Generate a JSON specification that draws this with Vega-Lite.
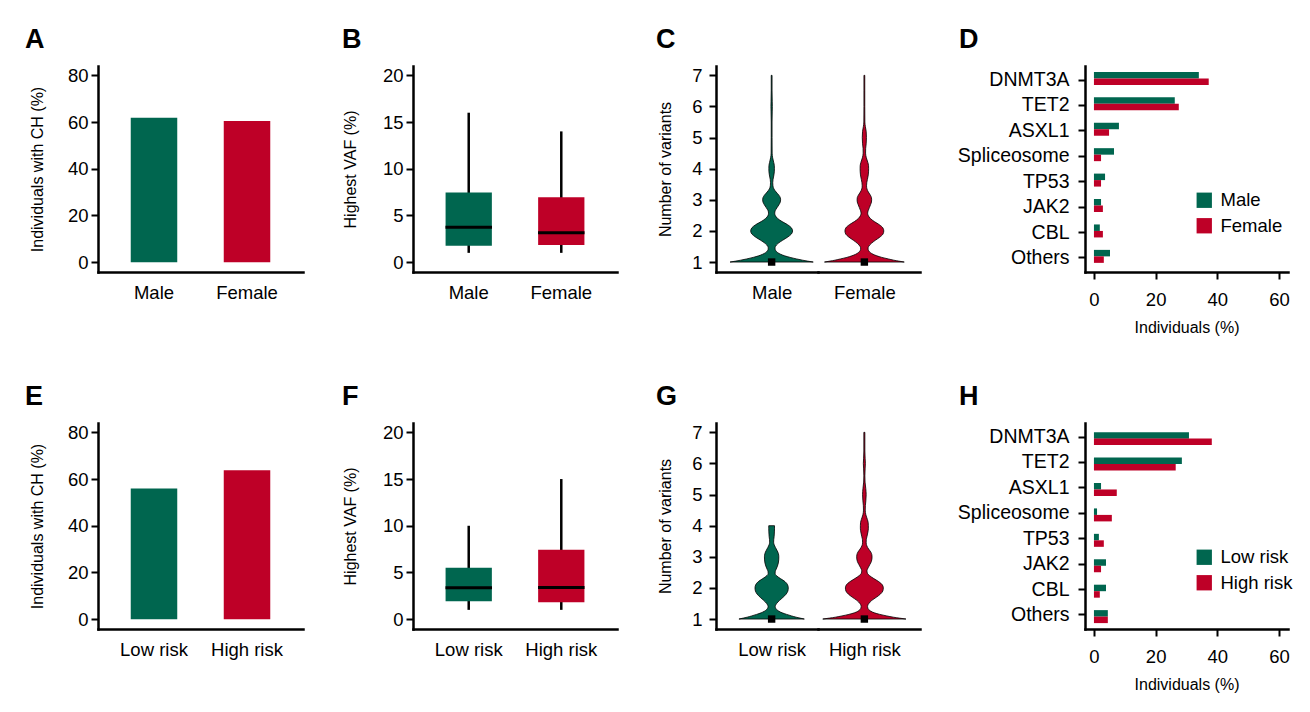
{
  "$schema": "https://vega.github.io/schema/vega-lite/v6.json",
  "background": "white",
  "padding": {"left": 25, "top": 25, "right": 5, "bottom": 5},
  "config": {
    "view": {"stroke": null},
    "font": "Liberation Sans",
    "axis": {"domainColor": "black", "domainWidth": 2.5, "domainCap": "square", "tickColor": "black", "tickWidth": 2, "tickSize": 7, "labelColor": "black", "labelFont": "Liberation Sans", "labelFontSize": 18.5, "labelPadding": 3, "labelFlush": false, "labelOverlap": false, "titleFont": "Liberation Sans", "titleFontSize": 16, "titleFontWeight": "normal", "titleColor": "black", "titlePadding": 22, "grid": false},
    "title": {"font": "Liberation Sans", "fontSize": 27, "fontWeight": "bold", "anchor": "start", "frame": "group", "baseline": "alphabetic", "offset": 12.5, "color": "black"},
    "legend": {"labelFont": "Liberation Sans", "labelFontSize": 18.5, "labelColor": "black", "symbolType": "square", "symbolSize": 235, "symbolStrokeWidth": 0, "symbolOpacity": 1, "rowPadding": 6.5, "labelOffset": 7, "padding": 0}
  },
  "datasets": {
    "ch_sex": [{"group": "Male", "pct": 61.8}, {"group": "Female", "pct": 60.5}],
    "ch_risk": [{"group": "Low risk", "pct": 56.0}, {"group": "High risk", "pct": 63.8}],
    "vaf_sex": [
      {"group": "Male", "min": 1, "q1": 1.75, "median": 3.75, "q3": 7.45, "max": 16},
      {"group": "Female", "min": 1, "q1": 1.85, "median": 3.15, "q3": 6.95, "max": 14}
    ],
    "vaf_risk": [
      {"group": "Low risk", "min": 1, "q1": 1.93, "median": 3.36, "q3": 5.5, "max": 10},
      {"group": "High risk", "min": 1, "q1": 1.82, "median": 3.39, "q3": 7.42, "max": 15}
    ],
    "medians": [
      {"group": "Male", "median": 1}, {"group": "Female", "median": 1},
      {"group": "Low risk", "median": 1}, {"group": "High risk", "median": 1}
    ],
    "genes_sex": [
      {"gene": "DNMT3A", "group": "Male", "pct": 34.0}, {"gene": "DNMT3A", "group": "Female", "pct": 37.2},
      {"gene": "TET2", "group": "Male", "pct": 26.2}, {"gene": "TET2", "group": "Female", "pct": 27.5},
      {"gene": "ASXL1", "group": "Male", "pct": 8.1}, {"gene": "ASXL1", "group": "Female", "pct": 4.9},
      {"gene": "Spliceosome", "group": "Male", "pct": 6.5}, {"gene": "Spliceosome", "group": "Female", "pct": 2.3},
      {"gene": "TP53", "group": "Male", "pct": 3.6}, {"gene": "TP53", "group": "Female", "pct": 2.3},
      {"gene": "JAK2", "group": "Male", "pct": 2.3}, {"gene": "JAK2", "group": "Female", "pct": 2.9},
      {"gene": "CBL", "group": "Male", "pct": 1.9}, {"gene": "CBL", "group": "Female", "pct": 2.9},
      {"gene": "Others", "group": "Male", "pct": 5.2}, {"gene": "Others", "group": "Female", "pct": 3.2}
    ],
    "genes_risk": [
      {"gene": "DNMT3A", "group": "Low risk", "pct": 30.8}, {"gene": "DNMT3A", "group": "High risk", "pct": 38.2},
      {"gene": "TET2", "group": "Low risk", "pct": 28.5}, {"gene": "TET2", "group": "High risk", "pct": 26.5},
      {"gene": "ASXL1", "group": "Low risk", "pct": 2.3}, {"gene": "ASXL1", "group": "High risk", "pct": 7.4},
      {"gene": "Spliceosome", "group": "Low risk", "pct": 1.0}, {"gene": "Spliceosome", "group": "High risk", "pct": 5.8},
      {"gene": "TP53", "group": "Low risk", "pct": 1.6}, {"gene": "TP53", "group": "High risk", "pct": 3.2},
      {"gene": "JAK2", "group": "Low risk", "pct": 3.9}, {"gene": "JAK2", "group": "High risk", "pct": 2.3},
      {"gene": "CBL", "group": "Low risk", "pct": 3.9}, {"gene": "CBL", "group": "High risk", "pct": 1.9},
      {"gene": "Others", "group": "Low risk", "pct": 4.5}, {"gene": "Others", "group": "High risk", "pct": 4.5}
    ],
    "violins": [
      {"group": "Male", "variants": 1.00, "density": 0.897}, {"group": "Male", "variants": 1.03, "density": 0.774}, {"group": "Male", "variants": 1.06, "density": 0.667}, {"group": "Male", "variants": 1.10, "density": 0.538}, {"group": "Male", "variants": 1.15, "density": 0.398}, {"group": "Male", "variants": 1.20, "density": 0.280}, {"group": "Male", "variants": 1.25, "density": 0.194}, {"group": "Male", "variants": 1.30, "density": 0.133}, {"group": "Male", "variants": 1.35, "density": 0.097}, {"group": "Male", "variants": 1.40, "density": 0.077}, {"group": "Male", "variants": 1.45, "density": 0.073}, {"group": "Male", "variants": 1.50, "density": 0.082}, {"group": "Male", "variants": 1.60, "density": 0.140}, {"group": "Male", "variants": 1.70, "density": 0.237}, {"group": "Male", "variants": 1.80, "density": 0.344}, {"group": "Male", "variants": 1.90, "density": 0.426}, {"group": "Male", "variants": 2.00, "density": 0.452}, {"group": "Male", "variants": 2.10, "density": 0.426}, {"group": "Male", "variants": 2.20, "density": 0.344}, {"group": "Male", "variants": 2.30, "density": 0.226}, {"group": "Male", "variants": 2.40, "density": 0.129}, {"group": "Male", "variants": 2.50, "density": 0.077}, {"group": "Male", "variants": 2.57, "density": 0.067}, {"group": "Male", "variants": 2.65, "density": 0.077}, {"group": "Male", "variants": 2.75, "density": 0.118}, {"group": "Male", "variants": 2.85, "density": 0.161}, {"group": "Male", "variants": 2.93, "density": 0.187}, {"group": "Male", "variants": 3.00, "density": 0.194}, {"group": "Male", "variants": 3.07, "density": 0.187}, {"group": "Male", "variants": 3.15, "density": 0.155}, {"group": "Male", "variants": 3.25, "density": 0.097}, {"group": "Male", "variants": 3.35, "density": 0.049}, {"group": "Male", "variants": 3.45, "density": 0.028}, {"group": "Male", "variants": 3.55, "density": 0.024}, {"group": "Male", "variants": 3.65, "density": 0.030}, {"group": "Male", "variants": 3.80, "density": 0.049}, {"group": "Male", "variants": 3.90, "density": 0.058}, {"group": "Male", "variants": 4.00, "density": 0.060}, {"group": "Male", "variants": 4.10, "density": 0.058}, {"group": "Male", "variants": 4.20, "density": 0.045}, {"group": "Male", "variants": 4.35, "density": 0.022}, {"group": "Male", "variants": 4.50, "density": 0.011}, {"group": "Male", "variants": 5.00, "density": 0.009}, {"group": "Male", "variants": 5.50, "density": 0.009}, {"group": "Male", "variants": 5.85, "density": 0.013}, {"group": "Male", "variants": 6.00, "density": 0.015}, {"group": "Male", "variants": 6.15, "density": 0.013}, {"group": "Male", "variants": 6.50, "density": 0.009}, {"group": "Male", "variants": 7.00, "density": 0.009},
      {"group": "Female", "variants": 1.00, "density": 0.860}, {"group": "Female", "variants": 1.03, "density": 0.742}, {"group": "Female", "variants": 1.06, "density": 0.634}, {"group": "Female", "variants": 1.10, "density": 0.516}, {"group": "Female", "variants": 1.15, "density": 0.376}, {"group": "Female", "variants": 1.20, "density": 0.269}, {"group": "Female", "variants": 1.25, "density": 0.187}, {"group": "Female", "variants": 1.30, "density": 0.133}, {"group": "Female", "variants": 1.35, "density": 0.099}, {"group": "Female", "variants": 1.40, "density": 0.082}, {"group": "Female", "variants": 1.45, "density": 0.080}, {"group": "Female", "variants": 1.50, "density": 0.092}, {"group": "Female", "variants": 1.60, "density": 0.151}, {"group": "Female", "variants": 1.70, "density": 0.237}, {"group": "Female", "variants": 1.80, "density": 0.333}, {"group": "Female", "variants": 1.90, "density": 0.402}, {"group": "Female", "variants": 2.00, "density": 0.419}, {"group": "Female", "variants": 2.10, "density": 0.398}, {"group": "Female", "variants": 2.20, "density": 0.323}, {"group": "Female", "variants": 2.30, "density": 0.215}, {"group": "Female", "variants": 2.40, "density": 0.129}, {"group": "Female", "variants": 2.50, "density": 0.082}, {"group": "Female", "variants": 2.57, "density": 0.071}, {"group": "Female", "variants": 2.65, "density": 0.082}, {"group": "Female", "variants": 2.75, "density": 0.108}, {"group": "Female", "variants": 2.85, "density": 0.135}, {"group": "Female", "variants": 2.93, "density": 0.153}, {"group": "Female", "variants": 3.00, "density": 0.157}, {"group": "Female", "variants": 3.07, "density": 0.153}, {"group": "Female", "variants": 3.15, "density": 0.129}, {"group": "Female", "variants": 3.25, "density": 0.086}, {"group": "Female", "variants": 3.35, "density": 0.056}, {"group": "Female", "variants": 3.45, "density": 0.047}, {"group": "Female", "variants": 3.55, "density": 0.052}, {"group": "Female", "variants": 3.65, "density": 0.065}, {"group": "Female", "variants": 3.80, "density": 0.084}, {"group": "Female", "variants": 3.90, "density": 0.090}, {"group": "Female", "variants": 4.00, "density": 0.092}, {"group": "Female", "variants": 4.10, "density": 0.090}, {"group": "Female", "variants": 4.20, "density": 0.075}, {"group": "Female", "variants": 4.35, "density": 0.043}, {"group": "Female", "variants": 4.50, "density": 0.026}, {"group": "Female", "variants": 4.65, "density": 0.028}, {"group": "Female", "variants": 4.80, "density": 0.039}, {"group": "Female", "variants": 5.00, "density": 0.045}, {"group": "Female", "variants": 5.20, "density": 0.039}, {"group": "Female", "variants": 5.35, "density": 0.022}, {"group": "Female", "variants": 5.50, "density": 0.011}, {"group": "Female", "variants": 6.00, "density": 0.009}, {"group": "Female", "variants": 6.50, "density": 0.009}, {"group": "Female", "variants": 7.00, "density": 0.009},
      {"group": "Low risk", "variants": 1.00, "density": 0.705}, {"group": "Low risk", "variants": 1.03, "density": 0.613}, {"group": "Low risk", "variants": 1.06, "density": 0.527}, {"group": "Low risk", "variants": 1.10, "density": 0.430}, {"group": "Low risk", "variants": 1.15, "density": 0.323}, {"group": "Low risk", "variants": 1.20, "density": 0.226}, {"group": "Low risk", "variants": 1.25, "density": 0.157}, {"group": "Low risk", "variants": 1.30, "density": 0.112}, {"group": "Low risk", "variants": 1.35, "density": 0.086}, {"group": "Low risk", "variants": 1.40, "density": 0.077}, {"group": "Low risk", "variants": 1.45, "density": 0.086}, {"group": "Low risk", "variants": 1.50, "density": 0.108}, {"group": "Low risk", "variants": 1.60, "density": 0.172}, {"group": "Low risk", "variants": 1.70, "density": 0.247}, {"group": "Low risk", "variants": 1.80, "density": 0.312}, {"group": "Low risk", "variants": 1.90, "density": 0.350}, {"group": "Low risk", "variants": 2.00, "density": 0.359}, {"group": "Low risk", "variants": 2.10, "density": 0.344}, {"group": "Low risk", "variants": 2.20, "density": 0.290}, {"group": "Low risk", "variants": 2.30, "density": 0.190}, {"group": "Low risk", "variants": 2.35, "density": 0.140}, {"group": "Low risk", "variants": 2.40, "density": 0.100}, {"group": "Low risk", "variants": 2.45, "density": 0.075}, {"group": "Low risk", "variants": 2.52, "density": 0.077}, {"group": "Low risk", "variants": 2.60, "density": 0.097}, {"group": "Low risk", "variants": 2.70, "density": 0.125}, {"group": "Low risk", "variants": 2.80, "density": 0.144}, {"group": "Low risk", "variants": 2.90, "density": 0.153}, {"group": "Low risk", "variants": 3.00, "density": 0.155}, {"group": "Low risk", "variants": 3.10, "density": 0.146}, {"group": "Low risk", "variants": 3.20, "density": 0.118}, {"group": "Low risk", "variants": 3.30, "density": 0.082}, {"group": "Low risk", "variants": 3.40, "density": 0.052}, {"group": "Low risk", "variants": 3.47, "density": 0.043}, {"group": "Low risk", "variants": 3.55, "density": 0.045}, {"group": "Low risk", "variants": 3.65, "density": 0.054}, {"group": "Low risk", "variants": 3.80, "density": 0.060}, {"group": "Low risk", "variants": 3.90, "density": 0.062}, {"group": "Low risk", "variants": 4.00, "density": 0.062},
      {"group": "High risk", "variants": 1.00, "density": 0.897}, {"group": "High risk", "variants": 1.03, "density": 0.753}, {"group": "High risk", "variants": 1.06, "density": 0.624}, {"group": "High risk", "variants": 1.10, "density": 0.484}, {"group": "High risk", "variants": 1.15, "density": 0.333}, {"group": "High risk", "variants": 1.20, "density": 0.215}, {"group": "High risk", "variants": 1.25, "density": 0.140}, {"group": "High risk", "variants": 1.30, "density": 0.097}, {"group": "High risk", "variants": 1.35, "density": 0.075}, {"group": "High risk", "variants": 1.40, "density": 0.069}, {"group": "High risk", "variants": 1.45, "density": 0.075}, {"group": "High risk", "variants": 1.50, "density": 0.097}, {"group": "High risk", "variants": 1.60, "density": 0.161}, {"group": "High risk", "variants": 1.70, "density": 0.258}, {"group": "High risk", "variants": 1.80, "density": 0.344}, {"group": "High risk", "variants": 1.90, "density": 0.398}, {"group": "High risk", "variants": 2.00, "density": 0.409}, {"group": "High risk", "variants": 2.10, "density": 0.387}, {"group": "High risk", "variants": 2.20, "density": 0.312}, {"group": "High risk", "variants": 2.30, "density": 0.204}, {"group": "High risk", "variants": 2.40, "density": 0.108}, {"group": "High risk", "variants": 2.47, "density": 0.065}, {"group": "High risk", "variants": 2.55, "density": 0.056}, {"group": "High risk", "variants": 2.65, "density": 0.082}, {"group": "High risk", "variants": 2.75, "density": 0.118}, {"group": "High risk", "variants": 2.85, "density": 0.151}, {"group": "High risk", "variants": 2.93, "density": 0.163}, {"group": "High risk", "variants": 3.00, "density": 0.166}, {"group": "High risk", "variants": 3.07, "density": 0.161}, {"group": "High risk", "variants": 3.15, "density": 0.140}, {"group": "High risk", "variants": 3.25, "density": 0.092}, {"group": "High risk", "variants": 3.35, "density": 0.054}, {"group": "High risk", "variants": 3.45, "density": 0.039}, {"group": "High risk", "variants": 3.55, "density": 0.041}, {"group": "High risk", "variants": 3.65, "density": 0.056}, {"group": "High risk", "variants": 3.80, "density": 0.077}, {"group": "High risk", "variants": 3.90, "density": 0.086}, {"group": "High risk", "variants": 4.00, "density": 0.086}, {"group": "High risk", "variants": 4.10, "density": 0.082}, {"group": "High risk", "variants": 4.20, "density": 0.065}, {"group": "High risk", "variants": 4.35, "density": 0.032}, {"group": "High risk", "variants": 4.50, "density": 0.019}, {"group": "High risk", "variants": 4.65, "density": 0.022}, {"group": "High risk", "variants": 4.80, "density": 0.032}, {"group": "High risk", "variants": 5.00, "density": 0.039}, {"group": "High risk", "variants": 5.20, "density": 0.030}, {"group": "High risk", "variants": 5.40, "density": 0.015}, {"group": "High risk", "variants": 5.60, "density": 0.011}, {"group": "High risk", "variants": 5.85, "density": 0.017}, {"group": "High risk", "variants": 6.00, "density": 0.022}, {"group": "High risk", "variants": 6.15, "density": 0.017}, {"group": "High risk", "variants": 6.40, "density": 0.011}, {"group": "High risk", "variants": 7.00, "density": 0.011}
    ]
  },
  "columns": 8,
  "spacing": {"row": 151, "column": 0},
  "bounds": "flush",
  "align": "each",
  "resolve": {"scale": {"color": "independent", "x": "independent", "y": "independent"}, "legend": {"color": "independent"}},
  "concat": [
    {
      "width": 205, "height": 206, "title": {"text": "A", "dx": -73},
      "data": {"name": "ch_sex"},
      "mark": {"type": "bar"},
      "encoding": {
        "x": {"field": "group", "type": "nominal", "sort": ["Male", "Female"], "scale": {"paddingInner": 0.5, "paddingOuter": 0.352}, "axis": {"title": null, "ticks": false, "labelAngle": 0, "labelPadding": 11}},
        "y": {"field": "pct", "type": "quantitative", "scale": {"domain": [-4.2, 84], "nice": false, "zero": false}, "axis": {"values": [0, 20, 40, 60, 80], "title": "Individuals with CH (%)", "labelOverlap": false}},
        "y2": {"datum": 0},
        "color": {"field": "group", "type": "nominal", "scale": {"domain": ["Male", "Female"], "range": ["#00664F", "#BE0027"]}, "legend": null}
      }
    },
    {"width": 110, "height": 206, "data": {"values": []}, "mark": "point"},
    {
      "width": 204, "height": 206, "title": {"text": "B", "dx": -71},
      "data": {"name": "vaf_sex"},
      "encoding": {
        "x": {"field": "group", "type": "nominal", "sort": ["Male", "Female"], "scale": {"paddingInner": 0.5, "paddingOuter": 0.352}, "axis": {"title": null, "ticks": false, "labelAngle": 0, "labelPadding": 11}}
      },
      "layer": [
        {"mark": {"type": "rule", "color": "black", "strokeWidth": 2.5}, "encoding": {"y": {"field": "min", "type": "quantitative", "title": "Highest VAF (%)", "scale": {"domain": [-1.05, 21], "nice": false, "zero": false}, "axis": {"values": [0, 5, 10, 15, 20], "titlePadding": 24, "labelOverlap": false}}, "y2": {"field": "max"}}},
        {"mark": {"type": "bar"}, "encoding": {"y": {"field": "q1", "type": "quantitative", "title": "Highest VAF (%)"}, "y2": {"field": "q3"}, "color": {"field": "group", "type": "nominal", "scale": {"domain": ["Male", "Female"], "range": ["#00664F", "#BE0027"]}, "legend": null}}},
        {"mark": {"type": "tick", "color": "black", "thickness": 3, "size": 46.5, "opacity": 1}, "encoding": {"y": {"field": "median", "type": "quantitative", "title": "Highest VAF (%)"}}}
      ]
    },
    {"width": 99, "height": 206, "data": {"values": []}, "mark": "point"},
    {
      "width": 102, "height": 206, "title": {"text": "C", "dx": -60},
      "layer": [
        {
          "data": {"name": "violins"}, "transform": [{"filter": {"field": "group", "equal": "Male"}}],
          "mark": {"type": "area", "orient": "horizontal", "interpolate": "monotone", "stroke": "black", "strokeWidth": 0.8},
          "encoding": {
            "y": {"field": "variants", "type": "quantitative", "title": "Number of variants", "scale": {"domain": [0.68, 7.3], "nice": false, "zero": false}, "axis": {"values": [1, 2, 3, 4, 5, 6, 7], "labelPadding": 7, "titlePadding": 18, "labelOverlap": false, "tickCount": 7}},
            "x": {"field": "density", "type": "quantitative", "stack": "center", "impute": null, "scale": {"domain": [-0.1515, 0.9485], "nice": false, "zero": false}, "axis": {"title": null, "ticks": false, "values": [0.4485], "labelExpr": "'Male'", "labelPadding": 11}},
            "color": {"field": "group", "type": "nominal", "scale": {"domain": ["Male", "Female"], "range": ["#00664F", "#BE0027"]}, "legend": null}
          }
        },
        {
          "data": {"name": "medians"}, "transform": [{"filter": {"field": "group", "equal": "Male"}}],
          "mark": {"type": "square", "size": 55, "color": "black", "opacity": 1},
          "encoding": {"x": {"datum": 0.4485, "type": "quantitative"}, "y": {"field": "median", "type": "quantitative", "title": "Number of variants"}}
        }
      ]
    },
    {
      "width": 102, "height": 206,
      "layer": [
        {
          "data": {"name": "violins"}, "transform": [{"filter": {"field": "group", "equal": "Female"}}],
          "mark": {"type": "area", "orient": "horizontal", "interpolate": "monotone", "stroke": "black", "strokeWidth": 0.8},
          "encoding": {
            "y": {"field": "variants", "type": "quantitative", "scale": {"domain": [0.68, 7.3], "nice": false, "zero": false}, "axis": null},
            "x": {"field": "density", "type": "quantitative", "stack": "center", "impute": null, "scale": {"domain": [-0.07, 1.03], "nice": false, "zero": false}, "axis": {"title": null, "ticks": false, "values": [0.43], "labelExpr": "'Female'", "labelPadding": 11}},
            "color": {"field": "group", "type": "nominal", "scale": {"domain": ["Male", "Female"], "range": ["#00664F", "#BE0027"]}, "legend": null}
          }
        },
        {
          "data": {"name": "medians"}, "transform": [{"filter": {"field": "group", "equal": "Female"}}],
          "mark": {"type": "square", "size": 55, "color": "black", "opacity": 1},
          "encoding": {"x": {"datum": 0.43, "type": "quantitative"}, "y": {"field": "median", "type": "quantitative"}}
        }
      ]
    },
    {"width": 165, "height": 206, "data": {"values": []}, "mark": "point"},
    {
      "width": 203, "height": 206, "title": {"text": "D", "dx": -126},
      "data": {"name": "genes_sex"},
      "mark": {"type": "bar", "height": 6.5},
      "encoding": {
        "y": {"field": "gene", "type": "nominal", "sort": ["DNMT3A", "TET2", "ASXL1", "Spliceosome", "TP53", "JAK2", "CBL", "Others"], "scale": {"paddingInner": 0.49, "paddingOuter": 0.296}, "axis": {"title": null, "labelPadding": 9, "labelFontSize": 19.5, "bandPosition": 0.5}},
        "yOffset": {"field": "group", "type": "nominal", "sort": ["Male", "Female"], "scale": {"paddingInner": 0, "paddingOuter": 0}},
        "x": {"field": "pct", "type": "quantitative", "title": "Individuals (%)", "scale": {"domain": [-2.9, 62.9], "nice": false, "zero": false}, "axis": {"values": [0, 20, 40, 60], "labelPadding": 11, "titlePadding": 11}},
        "x2": {"datum": 0},
        "color": {"field": "group", "type": "nominal", "scale": {"domain": ["Male", "Female"], "range": ["#00664F", "#BE0027"]}, "legend": {"title": null, "orient": "none", "legendX": 110, "legendY": 125}}
      }
    },
    {
      "width": 205, "height": 206, "title": {"text": "E", "dx": -73},
      "data": {"name": "ch_risk"},
      "mark": {"type": "bar"},
      "encoding": {
        "x": {"field": "group", "type": "nominal", "sort": ["Low risk", "High risk"], "scale": {"paddingInner": 0.5, "paddingOuter": 0.352}, "axis": {"title": null, "ticks": false, "labelAngle": 0, "labelPadding": 11}},
        "y": {"field": "pct", "type": "quantitative", "scale": {"domain": [-4.2, 84], "nice": false, "zero": false}, "axis": {"values": [0, 20, 40, 60, 80], "title": "Individuals with CH (%)", "labelOverlap": false}},
        "y2": {"datum": 0},
        "color": {"field": "group", "type": "nominal", "scale": {"domain": ["Low risk", "High risk"], "range": ["#00664F", "#BE0027"]}, "legend": null}
      }
    },
    {"width": 110, "height": 206, "data": {"values": []}, "mark": "point"},
    {
      "width": 204, "height": 206, "title": {"text": "F", "dx": -71},
      "data": {"name": "vaf_risk"},
      "encoding": {
        "x": {"field": "group", "type": "nominal", "sort": ["Low risk", "High risk"], "scale": {"paddingInner": 0.5, "paddingOuter": 0.352}, "axis": {"title": null, "ticks": false, "labelAngle": 0, "labelPadding": 11}}
      },
      "layer": [
        {"mark": {"type": "rule", "color": "black", "strokeWidth": 2.5}, "encoding": {"y": {"field": "min", "type": "quantitative", "title": "Highest VAF (%)", "scale": {"domain": [-1.05, 21], "nice": false, "zero": false}, "axis": {"values": [0, 5, 10, 15, 20], "titlePadding": 24, "labelOverlap": false}}, "y2": {"field": "max"}}},
        {"mark": {"type": "bar"}, "encoding": {"y": {"field": "q1", "type": "quantitative", "title": "Highest VAF (%)"}, "y2": {"field": "q3"}, "color": {"field": "group", "type": "nominal", "scale": {"domain": ["Low risk", "High risk"], "range": ["#00664F", "#BE0027"]}, "legend": null}}},
        {"mark": {"type": "tick", "color": "black", "thickness": 3, "size": 46.5, "opacity": 1}, "encoding": {"y": {"field": "median", "type": "quantitative", "title": "Highest VAF (%)"}}}
      ]
    },
    {"width": 99, "height": 206, "data": {"values": []}, "mark": "point"},
    {
      "width": 102, "height": 206, "title": {"text": "G", "dx": -60},
      "layer": [
        {
          "data": {"name": "violins"}, "transform": [{"filter": {"field": "group", "equal": "Low risk"}}],
          "mark": {"type": "area", "orient": "horizontal", "interpolate": "monotone", "stroke": "black", "strokeWidth": 0.8},
          "encoding": {
            "y": {"field": "variants", "type": "quantitative", "title": "Number of variants", "scale": {"domain": [0.68, 7.3], "nice": false, "zero": false}, "axis": {"values": [1, 2, 3, 4, 5, 6, 7], "labelPadding": 7, "titlePadding": 18, "labelOverlap": false, "tickCount": 7}},
            "x": {"field": "density", "type": "quantitative", "stack": "center", "impute": null, "scale": {"domain": [-0.2475, 0.8525], "nice": false, "zero": false}, "axis": {"title": null, "ticks": false, "values": [0.3525], "labelExpr": "'Low risk'", "labelPadding": 11}},
            "color": {"field": "group", "type": "nominal", "scale": {"domain": ["Low risk", "High risk"], "range": ["#00664F", "#BE0027"]}, "legend": null}
          }
        },
        {
          "data": {"name": "medians"}, "transform": [{"filter": {"field": "group", "equal": "Low risk"}}],
          "mark": {"type": "square", "size": 55, "color": "black", "opacity": 1},
          "encoding": {"x": {"datum": 0.3525, "type": "quantitative"}, "y": {"field": "median", "type": "quantitative", "title": "Number of variants"}}
        }
      ]
    },
    {
      "width": 102, "height": 206,
      "layer": [
        {
          "data": {"name": "violins"}, "transform": [{"filter": {"field": "group", "equal": "High risk"}}],
          "mark": {"type": "area", "orient": "horizontal", "interpolate": "monotone", "stroke": "black", "strokeWidth": 0.8},
          "encoding": {
            "y": {"field": "variants", "type": "quantitative", "scale": {"domain": [0.68, 7.3], "nice": false, "zero": false}, "axis": null},
            "x": {"field": "density", "type": "quantitative", "stack": "center", "impute": null, "scale": {"domain": [-0.0515, 1.0485], "nice": false, "zero": false}, "axis": {"title": null, "ticks": false, "values": [0.4485], "labelExpr": "'High risk'", "labelPadding": 11}},
            "color": {"field": "group", "type": "nominal", "scale": {"domain": ["Low risk", "High risk"], "range": ["#00664F", "#BE0027"]}, "legend": null}
          }
        },
        {
          "data": {"name": "medians"}, "transform": [{"filter": {"field": "group", "equal": "High risk"}}],
          "mark": {"type": "square", "size": 55, "color": "black", "opacity": 1},
          "encoding": {"x": {"datum": 0.4485, "type": "quantitative"}, "y": {"field": "median", "type": "quantitative"}}
        }
      ]
    },
    {"width": 165, "height": 206, "data": {"values": []}, "mark": "point"},
    {
      "width": 203, "height": 206, "title": {"text": "H", "dx": -126},
      "data": {"name": "genes_risk"},
      "mark": {"type": "bar", "height": 6.5},
      "encoding": {
        "y": {"field": "gene", "type": "nominal", "sort": ["DNMT3A", "TET2", "ASXL1", "Spliceosome", "TP53", "JAK2", "CBL", "Others"], "scale": {"paddingInner": 0.49, "paddingOuter": 0.296}, "axis": {"title": null, "labelPadding": 9, "labelFontSize": 19.5, "bandPosition": 0.5}},
        "yOffset": {"field": "group", "type": "nominal", "sort": ["Low risk", "High risk"], "scale": {"paddingInner": 0, "paddingOuter": 0}},
        "x": {"field": "pct", "type": "quantitative", "title": "Individuals (%)", "scale": {"domain": [-2.9, 62.9], "nice": false, "zero": false}, "axis": {"values": [0, 20, 40, 60], "labelPadding": 11, "titlePadding": 11}},
        "x2": {"datum": 0},
        "color": {"field": "group", "type": "nominal", "scale": {"domain": ["Low risk", "High risk"], "range": ["#00664F", "#BE0027"]}, "legend": {"title": null, "orient": "none", "legendX": 110, "legendY": 125}}
      }
    }
  ]
}
